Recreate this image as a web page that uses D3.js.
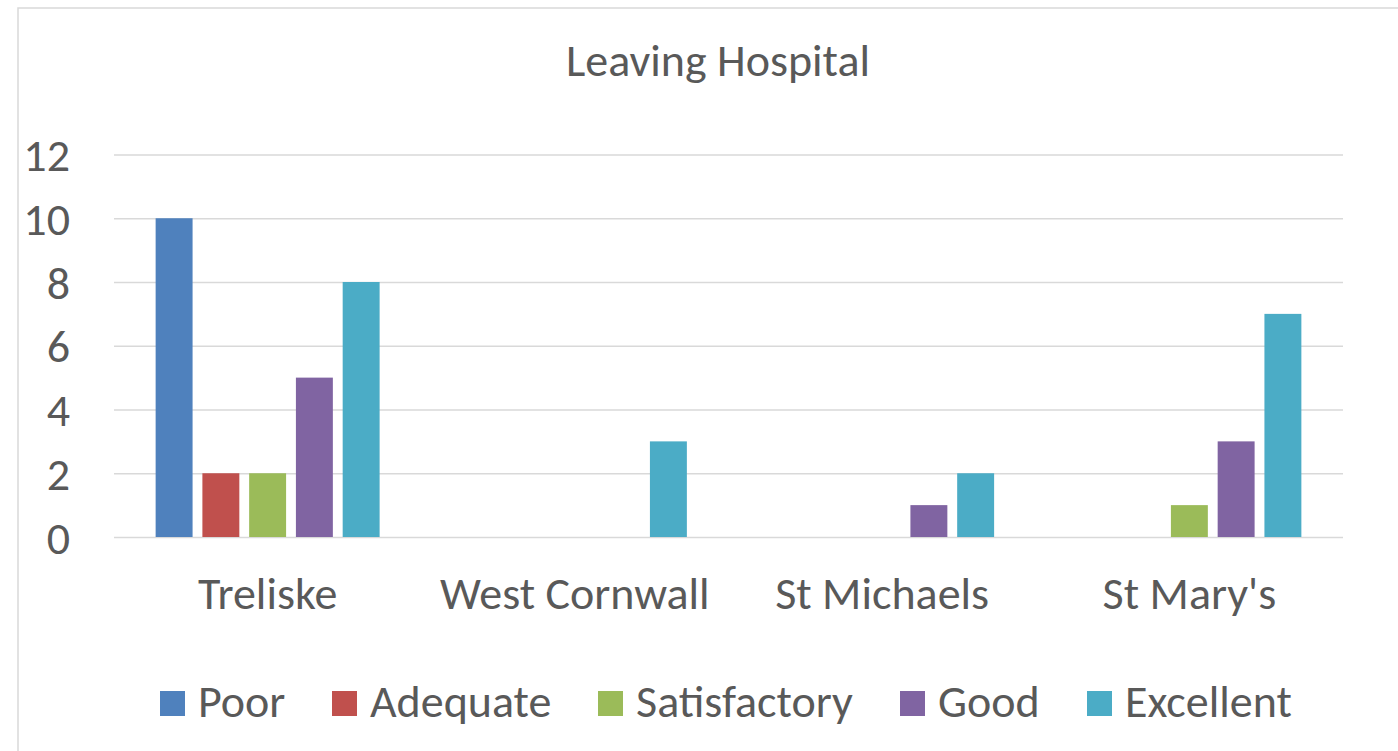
<!DOCTYPE html>
<html>
<head>
<meta charset="utf-8">
<script src="https://cdn.jsdelivr.net/npm/d3@7"></script>
<style>
  html, body { margin: 0; padding: 0; background: #fff; }
  svg { display: block; }
  text { font-family: Carlito, Lato, "Open Sans", sans-serif; fill: #595959; }
</style>
</head>
<body>
<svg id="chart" width="1398" height="751"></svg>
<script>
const title = "Leaving Hospital";
const categories = ["Treliske", "West Cornwall", "St Michaels", "St Mary's"];
const seriesNames = ["Poor", "Adequate", "Satisfactory", "Good", "Excellent"];
const seriesColors = ["#4F81BD", "#C0504D", "#9BBB59", "#8064A2", "#4BACC6"];
const poor = [10, 0, 0, 0];
const adequate = [2, 0, 0, 0];
const satisfactory = [2, 0, 0, 1];
const good = [5, 0, 1, 3];
const excellent = [8, 3, 2, 7];
const yTicks = [0, 2, 4, 6, 8, 10, 12];

const seriesValues = [poor, adequate, satisfactory, good, excellent];
const fontSize = 46;
const ff = "Carlito, Lato, 'Open Sans', sans-serif";

const svg = d3.select("#chart");

// outer border
svg.append("rect")
  .attr("x", 18).attr("y", 8)
  .attr("width", 1400).attr("height", 760)
  .attr("fill", "none").attr("stroke", "#d9d9d9").attr("stroke-width", 1.5);

const x0 = d3.scaleBand().domain(categories).range([114, 1343])
  .paddingInner(0.271).paddingOuter(0.1355);
const x1 = d3.scaleBand().domain(seriesNames).range([0, x0.bandwidth()])
  .paddingInner(0.21).paddingOuter(0);
const y = d3.scaleLinear().domain([0, 12]).range([537, 154.5]);
const color = d3.scaleOrdinal().domain(seriesNames).range(seriesColors);

// gridlines + y labels
const yAxis = d3.axisLeft(y).tickValues(yTicks).tickSize(-(1343 - 114)).tickPadding(44).tickFormat(d3.format("d"));
const gy = svg.append("g").attr("transform", "translate(114,0)").call(yAxis);
gy.select(".domain").remove();
gy.selectAll(".tick line").attr("stroke", "#d9d9d9").attr("stroke-width", 1.5);
gy.selectAll(".tick text").attr("font-size", fontSize).attr("fill", "#595959")
  .attr("dy", "0.35em").style("font-family", ff);

// bars
const groups = svg.append("g").selectAll("g")
  .data(categories)
  .join("g")
  .attr("transform", d => `translate(${x0(d)},0)`);

groups.selectAll("rect")
  .data((c, ci) => seriesNames.map((s, si) => ({ s, v: seriesValues[si][ci] })))
  .join("rect")
  .attr("x", d => x1(d.s))
  .attr("width", x1.bandwidth())
  .attr("y", d => y(d.v))
  .attr("height", d => y(0) - y(d.v))
  .attr("fill", d => color(d.s));

// category labels
const xAxis = d3.axisBottom(x0).tickSize(0);
const gx = svg.append("g").attr("transform", "translate(0,537)").call(xAxis);
gx.select(".domain").remove();
gx.selectAll(".tick text").attr("font-size", fontSize).attr("fill", "#595959")
  .attr("y", 72).attr("dy", 0).style("font-family", ff);

// title
svg.append("text")
  .attr("x", 718).attr("y", 76)
  .attr("text-anchor", "middle")
  .attr("font-size", fontSize)
  .text(title);

// legend
const legendX = [160, 332, 598, 900, 1087];
const lg = svg.append("g").selectAll("g")
  .data(seriesNames)
  .join("g")
  .attr("transform", (d, i) => `translate(${legendX[i]},0)`);
lg.append("rect").attr("x", 0).attr("y", 691).attr("width", 25).attr("height", 25)
  .attr("fill", d => color(d));
lg.append("text").attr("x", 38).attr("y", 717).attr("font-size", fontSize).text(d => d);
</script>
</body>
</html>
